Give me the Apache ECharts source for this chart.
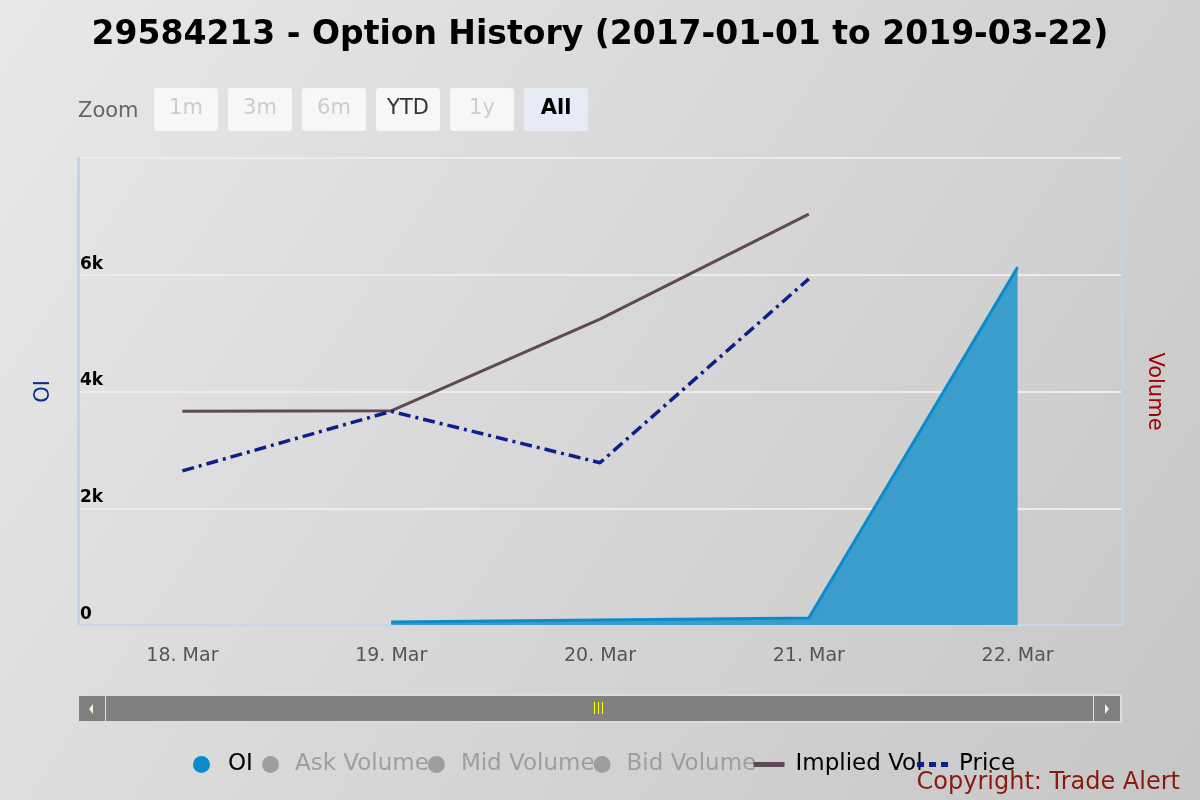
<!DOCTYPE html>
<html>
<head>
<meta charset="utf-8">
<script src="https://cdn.jsdelivr.net/npm/echarts@6/dist/echarts.min.js"></script>
<style>
  html, body { margin: 0; padding: 0; }
  #chart { width: 1200px; height: 800px; }
</style>
</head>
<body>
<div id="chart"></div>
<script>
// data
var days = ['18. Mar', '19. Mar', '20. Mar', '21. Mar', '22. Mar'];
var oi = [null, 50, 85, 120, 6130];
var impliedVol = [36.6, 36.7, 52.4, 70.4, null];
var price = [2.64, 3.66, 2.78, 5.93, null];
var askVolume = [];
var midVolume = [];
var bidVolume = [];
var zoomButtons = ['1m', '3m', '6m', 'YTD', '1y', 'All'];

var chart = echarts.init(document.getElementById('chart'));

var font = 'DejaVu Sans';
var btnGraphics = [{
    type: 'text', left: 78, top: 101,
    style: {text: 'Zoom', fill: '#666', fontSize: 21, fontFamily: font}
}];
zoomButtons.forEach(function (b, i) {
    var x = 154 + i * 74;
    var active = b === 'All';
    var enabled = b === 'YTD' || active;
    btnGraphics.push({
        type: 'rect', left: x, top: 88,
        shape: {width: 64, height: 43, r: 3},
        style: {fill: active ? '#e6ebf5' : '#f7f7f7'}
    });
    btnGraphics.push({
        type: 'text', x: x + 32, y: 109,
        style: {
            text: b, fill: active ? '#000' : (enabled ? '#333' : '#ccc'),
            fontSize: 21, fontFamily: font, fontWeight: active ? 'bold' : 'normal',
            align: 'center', verticalAlign: 'middle'
        }
    });
});

// scrollbar under the plot
var scroll = [
    {type: 'rect', left: 77, top: 694, shape: {width: 1045, height: 29}, style: {fill: '#dcdcdc'}},
    {type: 'rect', left: 79, top: 696, shape: {width: 1041, height: 25}, style: {fill: '#808080'}},
    {type: 'line', shape: {x1: 105.5, y1: 696, x2: 105.5, y2: 721}, style: {stroke: '#e0e0e0', lineWidth: 1}},
    {type: 'line', shape: {x1: 1093.5, y1: 696, x2: 1093.5, y2: 721}, style: {stroke: '#e0e0e0', lineWidth: 1}},
    {type: 'polygon', shape: {points: [[93, 704], [89, 709], [93, 714]]}, style: {fill: '#f5f5dc'}},
    {type: 'polygon', shape: {points: [[1105, 704], [1109, 709], [1105, 714]]}, style: {fill: '#f5f5dc'}},
    {type: 'line', shape: {x1: 594.5, y1: 702, x2: 594.5, y2: 714}, style: {stroke: '#ffff00', lineWidth: 1}},
    {type: 'line', shape: {x1: 598.5, y1: 702, x2: 598.5, y2: 714}, style: {stroke: '#ffff00', lineWidth: 1}},
    {type: 'line', shape: {x1: 602.5, y1: 702, x2: 602.5, y2: 714}, style: {stroke: '#ffff00', lineWidth: 1}}
];

var circleLegend = {
    top: 748, itemWidth: 17, itemHeight: 20, itemGap: -1,
    textStyle: {fontSize: 23, color: '#000', padding: [0, 0, 0, 11]},
    inactiveColor: '#a09d9d'
};

var option = {
    backgroundColor: {
        type: 'linear', x: 0, y: 0, x2: 1, y2: 1,
        colorStops: [{offset: 0, color: '#e8e8e8'}, {offset: 1, color: '#c6c6c6'}]
    },
    textStyle: {fontFamily: font},
    title: {
        text: '29584213 - Option History (2017-01-01 to 2019-03-22)',
        left: 'center', top: 14,
        textStyle: {fontSize: 33, fontWeight: 'bold', color: '#000', fontFamily: font}
    },
    grid: {left: 78, right: 78, top: 158, bottom: 175},
    legend: [
        Object.assign({}, circleLegend, {
            left: 188,
            textStyle: {fontSize: 23, color: '#000', padding: [0, 0, 0, 13]},
            data: [{name: 'OI', icon: 'circle'}]
        }),
        Object.assign({}, circleLegend, {
            left: 257,
            selected: {'Ask Volume': false, 'Mid Volume': false, 'Bid Volume': false},
            data: [
                {name: 'Ask Volume', icon: 'circle'},
                {name: 'Mid Volume', icon: 'circle'},
                {name: 'Bid Volume', icon: 'circle'}
            ]
        }), {
            left: 746, top: 748,
            itemWidth: 31, itemHeight: 20, itemGap: -8,
            itemStyle: {opacity: 0},
            textStyle: {fontSize: 23, color: '#000', padding: [0, 0, 0, 6]},
            data: [
                {name: 'Implied Vol', lineStyle: {width: 5}},
                {name: 'Price', lineStyle: {width: 5, type: [7, 5]}}
            ]
        }
    ],
    xAxis: {
        type: 'category',
        data: days,
        boundaryGap: true,
        axisLine: {lineStyle: {color: '#c9d5ea', width: 2}},
        axisTick: {alignWithLabel: true, length: 15, lineStyle: {color: '#c9d5ea', width: 2}},
        axisLabel: {color: '#555', fontSize: 19, margin: 22}
    },
    yAxis: [{
        type: 'value', min: 0, max: 8000, interval: 2000,
        position: 'left',
        name: 'OI', nameLocation: 'middle', nameGap: 24, nameRotate: 90,
        nameTextStyle: {color: '#0a2a94', fontSize: 21},
        axisLine: {show: true, lineStyle: {color: '#c4d2ec', width: 3}},
        splitLine: {lineStyle: {color: '#ececec', width: 2}},
        axisLabel: {
            inside: true, showMaxLabel: false, margin: 2,
            verticalAlign: 'bottom', padding: [0, 0, 2, 0],
            color: '#000', fontSize: 17, fontWeight: 'bold',
            formatter: function (v) { return v === 0 ? '0' : (v / 1000) + 'k'; }
        }
    }, {
        type: 'value', min: 0, max: 8000,
        position: 'right',
        name: 'Volume', nameLocation: 'middle', nameGap: 22, nameRotate: -90,
        nameTextStyle: {color: '#a0000a', fontSize: 21},
        axisLine: {show: true, lineStyle: {color: '#c4d2ec', width: 3}},
        splitLine: {show: false},
        axisLabel: {show: false}
    }, {
        type: 'value', min: 0, max: 80, show: false
    }, {
        type: 'value', min: 0, max: 8, show: false
    }],
    series: [{
        name: 'OI', type: 'line', yAxisIndex: 0,
        data: oi, symbol: 'none', color: '#0a8ccb',
        lineStyle: {color: '#0a8ccb', width: 3},
        areaStyle: {color: '#3a9dcb', opacity: 1}
    }, {
        name: 'Ask Volume', type: 'bar', yAxisIndex: 1, data: askVolume, color: '#a09d9d'
    }, {
        name: 'Mid Volume', type: 'bar', yAxisIndex: 1, data: midVolume, color: '#a09d9d'
    }, {
        name: 'Bid Volume', type: 'bar', yAxisIndex: 1, data: bidVolume, color: '#a09d9d'
    }, {
        name: 'Implied Vol', type: 'line', yAxisIndex: 2,
        data: impliedVol, symbol: 'none', color: '#5e4a57',
        lineStyle: {color: '#5e4a57', width: 3}
    }, {
        name: 'Price', type: 'line', yAxisIndex: 3,
        data: price, symbol: 'none', color: '#0c1f8c',
        lineStyle: {color: '#0c1f8c', width: 3.5, type: [12, 5, 3, 5]}
    }],
    graphic: btnGraphics.concat(scroll).concat([{
        type: 'text', right: 20, bottom: 5,
        style: {text: 'Copyright: Trade Alert', fill: '#8b1a0e', fontSize: 24, fontFamily: font}
    }])
};

chart.setOption(option);
</script>
</body>
</html>
